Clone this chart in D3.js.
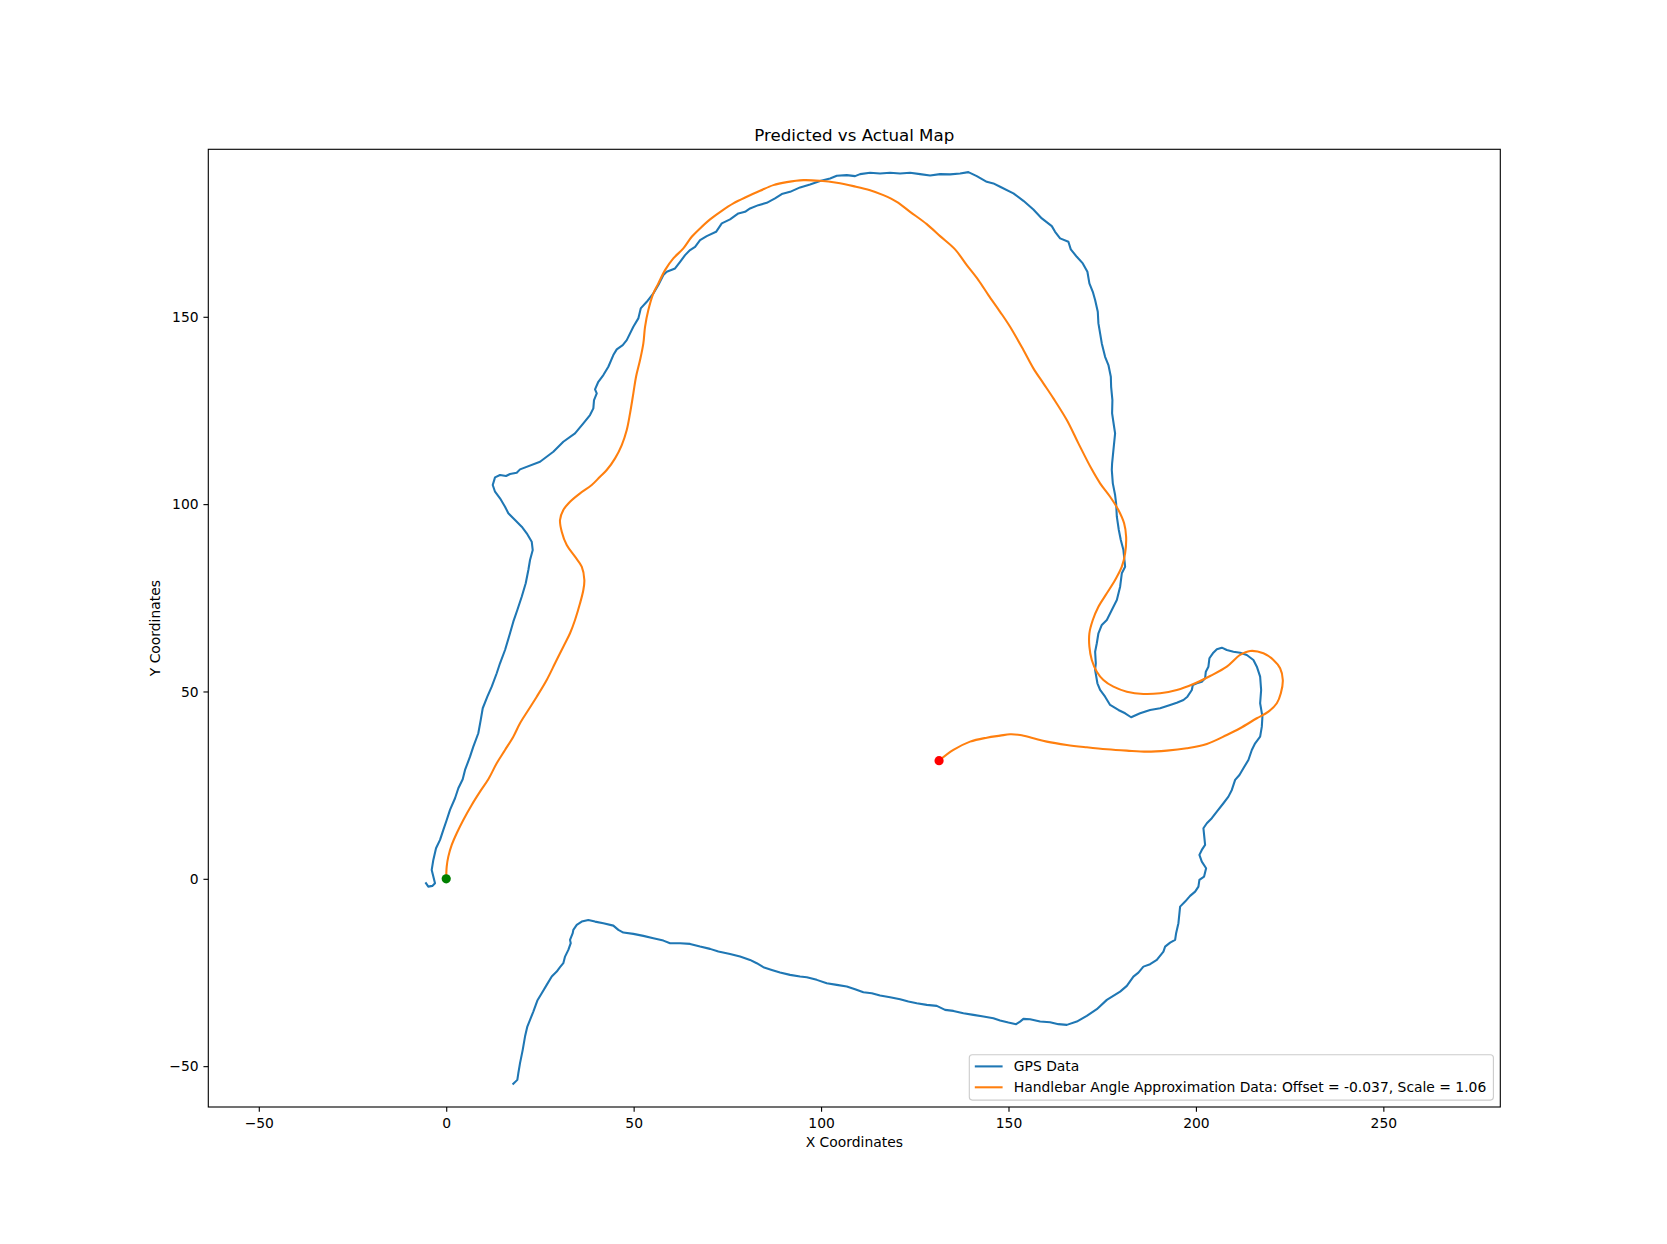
<!DOCTYPE html>
<html>
<head>
<meta charset="utf-8">
<script src="https://cdn.jsdelivr.net/npm/d3@7"></script>
<style>
  html, body { margin: 0; padding: 0; background: #fff; }
  svg { display: block; font-family: "DejaVu Sans", sans-serif; }
</style>
</head>
<body>
<svg id="chart" width="1667" height="1244"></svg>
<script>
// ---------------- DATA ----------------
const gpsX = [17.90,18.97,19.24,19.69,20.41,21.02,21.64,22.36,23.24,24.31,25.48,26.81,28.15,29.48,30.36,31.24,31.70,32.58,33.22,33.03,33.75,33.91,34.82,36.15,37.91,39.70,41.92,44.58,45.92,47.25,49.92,52.59,55.26,57.93,59.71,62.38,65.05,67.72,
70.39,72.60,75.72,78.39,81.05,82.84,84.61,86.85,89.06,91.73,94.40,96.19,98.85,101.52,104.19,106.86,109.07,111.29,113.53,115.74,118.41,121.08,123.29,125.53,128.20,130.87,133.08,135.30,137.97,140.64,143.31,145.97,147.76,
149.97,152.03,153.09,153.98,155.76,158.43,161.10,163.31,165.56,168.22,170.89,173.56,176.23,179.78,181.57,183.32,184.66,185.99,187.78,189.57,191.33,191.78,193.12,194.45,194.72,195.33,195.78,197.12,198.45,199.79,200.67,200.93,202.18,202.72,201.57,200.93,201.57,202.45,202.18,202.00,202.91,204.24,205.58,207.34,208.67,209.58,210.46,
211.61,212.67,214.00,214.91,215.80,217.13,217.58,217.74,217.13,217.40,217.13,216.25,215.34,213.58,211.79,210.01,208.24,206.91,205.58,204.51,203.60,203.33,202.64,202.45,201.57,200.24,199.17,198.91,197.73,196.67,194.90,193.12,190.45,187.78,185.11,182.71,181.11,179.32,177.11,175.77,174.44,173.72,173.11,173.29,173.11,173.56,173.99,174.89,176.23,177.56,178.90,179.78,180.23,181.11,180.66,179.96,179.43,178.90,178.71,178.44,177.83,
177.56,177.64,177.99,178.44,178.17,177.64,177.72,177.38,177.30,176.66,175.77,174.89,174.44,173.99,173.82,173.11,172.49,171.58,171.05,169.82,168.22,166.62,165.98,163.77,162.43,161.55,158.89,156.64,153.98,151.31,147.76,
145.97,144.21,141.54,139.30,137.09,134.42,131.75,129.08,126.42,123.75,121.08,118.41,115.74,113.07,110.41,109.07,106.86,104.19,102.40,99.73,97.06,94.40,91.73,89.51,87.72,85.51,83.27,81.05,79.72,77.93,75.72,73.51,71.99,69.50,67.72,
66.39,65.05,63.72,62.39,61.05,58.83,57.93,56.59,55.26,53.50,51.89,51.25,49.92,48.16,47.09,45.49,44.58,43.25,41.92,40.58,39.70,40.16,39.43,39.25,38.36,36.58,34.36,31.24,28.57,25.03,19.69,
18.81,17.02,15.96,14.35,13.02,12.41,13.02,14.35,15.69,16.57,18.36,20.14,21.48,22.81,23.08,22.36,21.91,21.21,20.14,18.97,17.90,17.02,15.69,14.35,13.47,12.14,10.97,9.74,9.21,8.56,7.23,6.35,5.02,4.40,
3.23,2.35,1.01,0.13,-0.77,-1.65,-2.72,-3.44,-3.87,-3.44,-2.99,-3.71,-4.78,-5.39];

const gpsY = [-54.72,-53.66,-51.87,-49.20,-45.65,-42.10,-39.43,-37.65,-35.43,-32.50,-30.52,-28.31,-26.09,-24.76,-23.59,-22.52,-20.76,-18.97,-17.18,-16.30,-14.51,-13.63,-12.30,-11.42,-10.97,-11.42,-11.85,-12.49,-13.63,-14.35,-14.70,-15.23,-15.85,-16.49,-17.18,-17.18,-17.37,-18.09,
-18.70,-19.42,-20.04,-20.76,-21.64,-22.52,-23.59,-24.31,-25.03,-25.64,-26.09,-26.25,-26.97,-27.85,-28.31,-28.76,-29.46,-30.26,-30.52,-31.16,-31.59,-32.12,-32.76,-33.19,-33.64,-33.91,-34.98,-35.25,-35.86,-36.31,-36.77,-37.19,-37.83,
-38.37,-38.79,-38.10,-37.38,-37.46,-38.10,-38.26,-38.79,-38.98,-38.10,-36.58,-34.79,-32.31,-30.10,-28.58,-26.09,-25.03,-23.43,-22.79,-21.64,-19.42,-18.09,-17.02,-16.30,-14.51,-11.85,-7.42,-6.08,-4.56,-3.42,-2.08,-0.29,0.59,2.83,4.59,6.38,7.71,9.04,11.71,13.50,14.83,16.17,17.93,20.17,21.93,23.72,26.39,
27.72,29.51,31.72,34.39,36.18,37.94,40.61,43.28,46.85,50.40,53.95,56.62,58.41,59.74,60.35,60.62,61.07,61.69,61.26,60.19,58.86,56.62,55.28,53.52,52.61,52.19,51.73,50.40,48.61,47.73,47.01,46.40,45.52,45.06,44.18,43.12,44.18,45.07,46.40,48.61,50.40,52.19,55.74,57.52,60.62,62.86,65.53,67.75,69.08,71.74,74.41,77.96,81.54,83.30,87.75,90.42,93.09,96.64,100.21,102.43,105.55,
109.10,110.89,114.43,118.89,120.65,124.23,127.77,131.32,133.99,137.11,139.33,142.90,145.57,148.24,151.33,154.46,156.67,158.91,162.01,164.25,166.01,167.98,170.01,170.92,172.68,174.20,176.25,178.65,180.95,182.93,184.69,
185.59,186.02,187.54,188.61,188.26,188.00,188.08,187.73,188.08,188.42,188.26,188.42,188.26,188.42,188.08,187.54,187.81,187.62,186.93,186.21,185.33,184.53,183.35,182.74,181.59,180.42,179.80,178.92,178.02,177.59,175.99,174.92,172.68,171.53,170.47,
168.68,167.80,166.46,164.67,162.91,162.01,161.13,158.46,156.24,154.00,152.24,149.57,147.33,143.78,142.45,141.30,139.78,136.66,134.44,132.66,130.63,129.56,127.77,125.56,123.77,121.56,118.89,116.65,113.98,111.31,109.28,
108.38,108.03,107.50,107.77,107.15,105.10,103.31,101.55,99.31,97.55,95.76,93.97,92.21,89.97,87.75,85.08,82.42,78.87,75.29,71.74,68.62,65.53,61.07,57.52,54.86,51.28,48.61,45.52,42.40,38.85,35.27,32.60,29.05,26.57,
24.17,21.50,18.38,15.71,13.05,10.38,8.16,5.04,2.37,0.59,-1.17,-1.89,-2.08,-1.17];

const hbX = [0,0.13,0.56,1.47,2.80,4.56,6.80,9.02,11.23,13.47,15.69,17.90,19.69,21.91,24.15,26.81,29.03,31.24,33.03,34.36,35.70,36.58,36.85,36.15,34.36,32.15,30.82,30.36,31.24,33.03,35.70,38.82,41.03,42.82,45.04,46.83,48.16,49.04,49.92,50.64,51.71,52.59,53.04,53.92,55.26,56.59,58.37,60.59,63.26,65.50,67.72,70.39,73.51,76.60,80.18,83.72,87.27,90.85,95.28,99.73,104.19,108.62,113.07,116.62,120.20,123.75,128.20,131.75,135.75,138.87,141.97,144.64,147.76,150.42,153.98,156.64,159.31,161.98,165.56,168.65,172.22,174.44,177.11,179.32,180.84,181.38,181.11,180.23,178.44,176.23,173.99,172.49,171.58,171.58,172.22,173.56,175.32,177.99,181.57,185.99,190.45,194.90,199.33,203.79,208.24,211.79,214.46,218.01,220.68,222.46,223.18,222.65,221.58,219.34,216.25,211.79,208.24,202.91,197.57,192.24,186.90,181.57,176.23,170.89,165.56,160.22,156.64,153.09,150.42,147.76,144.21,139.75,135.30,131.48];

const hbY = [0,3.26,5.92,9.04,12.17,15.71,19.72,23.27,26.57,30.84,34.39,37.94,41.52,45.06,48.61,53.07,57.52,61.95,65.53,69.08,73.53,77.08,79.75,83.30,85.97,89.09,92.64,95.76,98.43,100.64,102.88,105.10,107.31,109.10,112.22,115.77,119.77,124.23,129.56,133.99,138.45,142.90,147.33,151.79,156.24,158.91,162.46,165.58,168.25,171.35,173.59,175.99,178.28,180.26,182.02,183.62,185.14,185.94,186.47,186.29,185.75,184.87,183.80,182.47,180.68,178.02,174.73,171.53,167.98,163.79,159.79,155.79,151.33,147.33,141.12,136.23,132.23,128.23,122.44,116.22,109.28,105.55,101.97,98.43,94.88,91.30,86.87,83.30,79.75,76.20,72.62,69.08,65.53,61.95,58.41,55.28,53.07,51.28,49.95,49.33,49.52,50.40,52.00,54.14,56.62,59.74,60.81,60.19,58.41,56.19,53.07,49.52,46.85,44.61,42.85,40.18,38.39,35.99,34.85,34.21,33.94,34.21,34.58,35.11,35.73,36.61,37.51,38.39,38.58,38.21,37.67,36.61,34.39,31.54];

const startPoint = [0, 0];
const endPoint = [131.48, 31.54];

const xTicks = [-50, 0, 50, 100, 150, 200, 250];
const yTicks = [-50, 0, 50, 100, 150];

const titleText = "Predicted vs Actual Map";
const xLabel = "X Coordinates";
const yLabel = "Y Coordinates";
const seriesNames = ["GPS Data", "Handlebar Angle Approximation Data: Offset = -0.037, Scale = 1.06"];
const seriesColors = ["#1f77b4", "#ff7f0e"];

// ---------------- LAYOUT ----------------
const svg = d3.select("#chart");
const L = 208.3, R = 1500.3, T = 149.3, B = 1107;
const x = d3.scaleLinear().domain([-63.47, 281.2]).range([L, R]);
const y = d3.scaleLinear().domain([-60.9, 194.7]).range([B, T]);

const fmt = d => (d < 0 ? "\u2212" + Math.abs(d) : String(d));

svg.append("defs").append("clipPath").attr("id", "clip")
  .append("rect").attr("x", L).attr("y", T).attr("width", R - L).attr("height", B - T);

const plot = svg.append("g").attr("clip-path", "url(#clip)");

const gps = gpsX.map((v, i) => [v, gpsY[i]]);
const hb = hbX.map((v, i) => [v, hbY[i]]);

plot.append("path").datum(gps)
  .attr("fill", "none").attr("stroke", seriesColors[0]).attr("stroke-width", 2.08)
  .attr("stroke-linejoin", "round").attr("stroke-linecap", "square")
  .attr("d", d3.line().x(d => x(d[0])).y(d => y(d[1])));

plot.append("path").datum(hb)
  .attr("fill", "none").attr("stroke", seriesColors[1]).attr("stroke-width", 2.08)
  .attr("stroke-linejoin", "round").attr("stroke-linecap", "square")
  .attr("d", d3.line().curve(d3.curveCatmullRom.alpha(0.5)).x(d => x(d[0])).y(d => y(d[1])));

plot.append("circle").attr("cx", x(startPoint[0])).attr("cy", y(startPoint[1])).attr("r", 4.6).attr("fill", "#008000");
plot.append("circle").attr("cx", x(endPoint[0])).attr("cy", y(endPoint[1])).attr("r", 4.6).attr("fill", "#ff0000");

// axes
const xAxis = d3.axisBottom(x).tickValues(xTicks).tickFormat(fmt).tickSize(4.86).tickPadding(4.86);
const yAxis = d3.axisLeft(y).tickValues(yTicks).tickFormat(fmt).tickSize(4.86).tickPadding(4.86);

const gx = svg.append("g").attr("transform", `translate(0,${B})`).call(xAxis);
const gy = svg.append("g").attr("transform", `translate(${L},0)`).call(yAxis);
[gx, gy].forEach(g => {
  g.select(".domain").remove();
  g.selectAll(".tick line").attr("stroke", "#000").attr("stroke-width", 1.11);
  g.selectAll(".tick text").attr("fill", "#000").style("font-size", "13.89px").style("font-family", "DejaVu Sans");
});
gx.selectAll(".tick text").attr("dy", null).attr("y", 21.2);
gy.selectAll(".tick text").attr("x", -9.72).attr("dy", "0.34em");

// frame
svg.append("rect").attr("x", L).attr("y", T).attr("width", R - L).attr("height", B - T)
  .attr("fill", "none").attr("stroke", "#000").attr("stroke-width", 1.11);

// title and labels
svg.append("text").attr("x", (L + R) / 2).attr("y", 140.8).attr("text-anchor", "middle")
  .style("font-size", "16.67px").attr("fill", "#000").text(titleText);
svg.append("text").attr("x", (L + R) / 2).attr("y", 1146.5).attr("text-anchor", "middle")
  .style("font-size", "13.89px").attr("fill", "#000").text(xLabel);
svg.append("text").attr("transform", `translate(160,${(T + B) / 2}) rotate(-90)`).attr("text-anchor", "middle")
  .style("font-size", "13.89px").attr("fill", "#000").text(yLabel);

// legend
const lg = svg.append("g");
const lgX = 969.3, lgY = 1054.8, lgW = 1493.4 - 969.3, lgH = 1100.1 - 1054.8;
lg.append("rect").attr("x", lgX).attr("y", lgY).attr("width", lgW).attr("height", lgH)
  .attr("rx", 3).attr("ry", 3).attr("fill", "#fff").attr("fill-opacity", 0.8)
  .attr("stroke", "#cccccc").attr("stroke-width", 1.11);
seriesNames.forEach((name, i) => {
  const ly = 1066.4 + i * 20.9;
  lg.append("line").attr("x1", 974.8).attr("x2", 1002.6).attr("y1", ly).attr("y2", ly)
    .attr("stroke", seriesColors[i]).attr("stroke-width", 2.08);
  lg.append("text").attr("x", 1013.8).attr("y", ly).attr("dy", "0.35em")
    .style("font-size", "13.89px").attr("fill", "#000").text(name);
});
</script>
</body>
</html>
